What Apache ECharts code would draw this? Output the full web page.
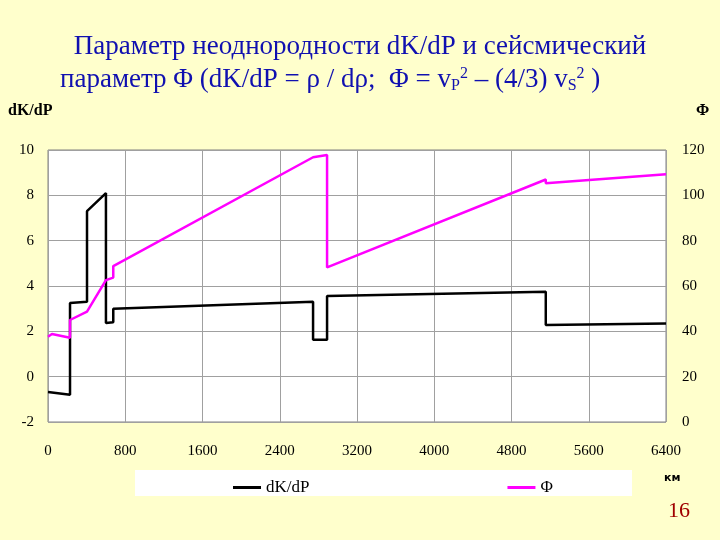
<!DOCTYPE html>
<html><head><meta charset="utf-8">
<script src="https://cdn.jsdelivr.net/npm/echarts@6/dist/echarts.min.js"></script>
<style>html,body{margin:0;padding:0;background:#ffffcc}#c{width:720px;height:540px}</style>
</head><body><div id="c"></div>
<script>
const xTicks = [0,800,1600,2400,3200,4000,4800,5600,6400];
const dkDepth  = [0, 228, 228, 404, 404, 600, 600, 676, 676, 2745, 2745, 2890, 2890, 5155, 5155, 6400];
const dkValues = [-0.68, -0.8, 3.25, 3.3, 7.3, 8.1, 2.37, 2.4, 3.0, 3.3, 1.63, 1.63, 3.56, 3.75, 2.28, 2.35];
const phiDepth  = [0, 41, 228, 228, 404, 600, 676, 676, 2745, 2890, 2890, 5155, 5155, 6400];
const phiValues = [37.6, 38.8, 37.2, 45, 48.7, 62.6, 63.7, 68.8, 116.8, 117.8, 68.2, 107, 105.3, 109.3];
const zip = (a,b)=>a.map((v,i)=>[v,b[i]]);
const serif = 'Liberation Serif, DejaVu Serif, serif';
const titleColor = '#1010b0';
const chart = echarts.init(document.getElementById('c'));
chart.setOption({
  backgroundColor:'#ffffcc',
  animation:false,
  grid:{left:48,right:54,top:150,bottom:118,backgroundColor:'#ffffff',show:true,borderColor:'#808080',borderWidth:1},
  graphic:[
    {type:'rect',left:135,top:470,shape:{width:497,height:26},style:{fill:'#ffffff'},z:-1},
    {type:'text',left:'center',top:33,style:{text:'Параметр неоднородности dK/dP и сейсмический',font:'27px '+serif,fill:titleColor}},
    {type:'text',left:60,top:66,style:{
      text:'параметр Φ (dK/dP = ρ / dρ;  Φ = v{s|P}{p|2} – (4/3) v{s|S}{p|2} )',
      font:'27px '+serif,fill:titleColor,
      rich:{s:{fontSize:16,fontFamily:serif,fill:titleColor,padding:[12,0,0,0]},p:{fontSize:16,fontFamily:serif,fill:titleColor,padding:[0,0,12,0]}}}},
    {type:'text',left:8,top:103,style:{text:'dK/dP',font:'bold 16px '+serif,fill:'#000'}},
    {type:'text',left:696,top:103,style:{text:'Φ',font:'bold 16px '+serif,fill:'#000'}},
    {type:'text',left:664,top:473,style:{text:'км',font:'bold 11px DejaVu Sans, sans-serif',fill:'#000'}},
    {type:'text',left:668,top:500,style:{text:'16',font:'22px '+serif,fill:'#a00000'}}
  ],
  legend:{left:228,top:474,itemGap:198,itemWidth:28,itemHeight:3,icon:'rect',
    textStyle:{fontFamily:serif,fontSize:17,color:'#000'},
    data:['dK/dP','Φ']},
  xAxis:{type:'value',min:0,max:6400,interval:800,
    axisLine:{show:false},axisTick:{show:false},
    splitLine:{lineStyle:{color:'#a0a0a0'}},
    axisLabel:{fontFamily:serif,fontSize:15,color:'#000',margin:22,formatter:v=>String(v)}},
  yAxis:[
    {type:'value',min:-2,max:10,interval:2,axisLine:{show:false},axisTick:{show:false},
      splitLine:{lineStyle:{color:'#a0a0a0'}},
      axisLabel:{fontFamily:serif,fontSize:15,color:'#000',margin:14}},
    {type:'value',min:0,max:120,interval:20,axisLine:{show:false},axisTick:{show:false},
      splitLine:{show:false},
      axisLabel:{fontFamily:serif,fontSize:15,color:'#000',margin:16}}
  ],
  series:[
    {name:'dK/dP',type:'line',yAxisIndex:0,data:zip(dkDepth,dkValues),symbol:'none',
      lineStyle:{color:'#000',width:2.5},itemStyle:{color:'#000'}},
    {name:'Φ',type:'line',yAxisIndex:1,data:zip(phiDepth,phiValues),symbol:'none',
      lineStyle:{color:'#ff00ff',width:2.5},itemStyle:{color:'#ff00ff'}}
  ]
});
</script></body></html>
